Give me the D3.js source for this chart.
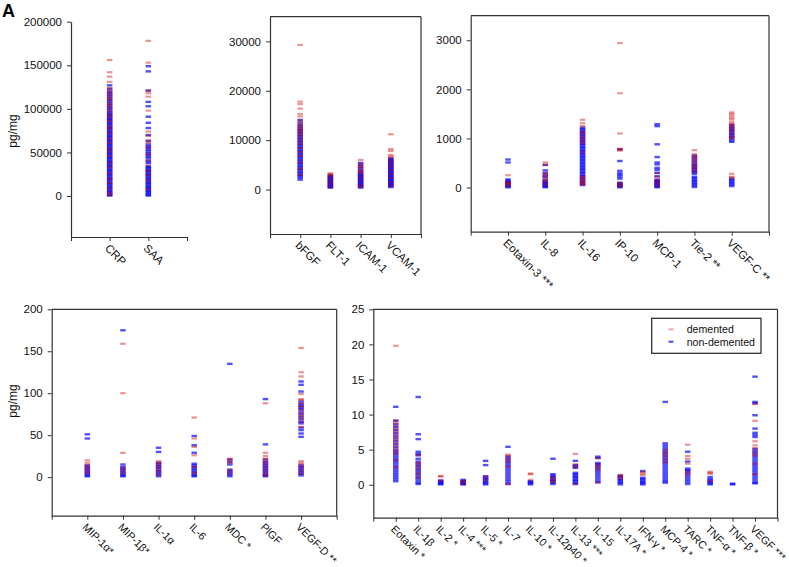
<!DOCTYPE html>
<html><head><meta charset="utf-8">
<script src="https://cdn.jsdelivr.net/npm/d3@7"></script>
<style>
body{margin:0;background:#fff;}
svg{font-family:"Liberation Sans",Arial,sans-serif;}
</style></head>
<body><svg id="chart" width="789" height="567"></svg>
<script>
// ---------- DATA ----------
const p1Categories = ["CRP", "SAA"];
const p1Ticks = [0, 50000, 100000, 150000, 200000];
const p1Demented = [
  [156000, 142000, 137000, 131000, 124000, 121000, 118000, 115000, 112000, 110000, 106000, 104000, 101000, 97000, 93000, 90000, 86000, 80000, 77000, 72000, 66000, 61000, 55000, 51000, 46000, 38000, 33000, 26000, 20000, 15000, 9000, 4000, 1000],
  [178000, 153000, 121000, 118000, 114000, 98000, 74000, 69000, 64000, 61000, 56000, 48000, 41000, 36000, 29000, 24000, 18000, 8000]
];
const p1NonDemented = [
  [127000, 123000, 120000, 118000, 116000, 114000, 112000, 110000, 108000, 106000, 104000, 102000, 100000, 98000, 96000, 94500, 93000, 91500, 90000, 88500, 87000, 85500, 84000, 82500, 81000, 79500, 78000, 76500, 75000, 73500, 72000, 70500, 69000, 67500, 66000, 64500, 63000, 61500, 60000, 58500, 57000, 55500, 54000, 52500, 51000, 49500, 48000, 46500, 45000, 43500, 42000, 40500, 39000, 37500, 36000, 34500, 33000, 31500, 30000, 28500, 27000, 25500, 24000, 22500, 21000, 19500, 18000, 16500, 15000, 13500, 12000, 10500, 9000, 7500, 6000, 4500, 3000, 1500, 500],
  [149000, 143000, 121000, 108000, 103000, 91000, 84000, 78000, 70000, 63000, 59000, 57000, 55000, 53000, 51000, 49000, 47000, 45000, 43000, 40000, 38000, 34000, 33000, 31500, 30000, 28500, 27000, 25500, 24000, 22500, 21000, 19500, 18000, 16500, 15000, 13500, 12000, 10500, 9000, 7500, 6000, 4500, 3000, 1500, 500]
];

const p2Categories = ["bFGF", "FLT-1", "ICAM-1", "VCAM-1"];
const p2Ticks = [0, 10000, 20000, 30000];
const p2Demented = [
  [29300, 17800, 17300, 16400, 15300, 14800, 14000, 13400, 13000, 12600, 12200, 11900, 11500, 11000, 10400, 9800, 9200, 8400, 7600, 6800, 5500, 4200, 3000],
  [3300, 3100, 2900, 2500, 1800, 1200, 600],
  [6000, 5200, 4700, 4400, 3900, 3600, 3300, 2600, 1800, 1000, 500],
  [11200, 8200, 7800, 7000, 6700, 6400, 5800, 5100, 4500, 3900, 3100, 2400, 1500, 800]
];
const p2NonDemented = [
  [14100, 13600, 13100, 12700, 12300, 12000, 11700, 11400, 11100, 10800, 10500, 10200, 9900, 9600, 9300, 9000, 8700, 8400, 8100, 7800, 7500, 7200, 6900, 6600, 6300, 6000, 5700, 5400, 5100, 4800, 4500, 4200, 3900, 3600, 3300, 3000, 2700, 2400, 2000],
  [2900, 2700, 2500, 2300, 2100, 1900, 1700, 1500, 1300, 1100, 900, 700, 500, 400],
  [5400, 5000, 4600, 4200, 3800, 3500, 3200, 3000, 2800, 2600, 2400, 2200, 2000, 1800, 1600, 1400, 1200, 1000, 800, 600, 400],
  [6300, 6100, 5900, 5700, 5500, 5300, 5100, 4900, 4700, 4500, 4300, 4100, 3900, 3700, 3500, 3300, 3100, 2900, 2700, 2500, 2300, 2100, 1900, 1700, 1500, 1300, 1100, 900, 700, 500]
];

const p3Categories = ["Eotaxin-3 ***", "IL-8", "IL-16", "IP-10", "MCP-1", "Tie-2 **", "VEGF-C **"];
const p3Ticks = [0, 1000, 2000, 3000];
const p3Demented = [
  [250, 110, 90, 70, 40],
  [510, 460, 290, 250, 200, 160, 120, 60],
  [1380, 1310, 1250, 1130, 1090, 1020, 960, 900, 720, 230, 200, 170, 130, 100, 80, 60],
  [2940, 1920, 1100, 790, 770, 750, 90, 60, 30],
  [290, 210, 150, 90, 40],
  [760, 680, 640, 600, 560, 520, 460, 420, 380, 330],
  [1530, 1500, 1460, 1420, 1390, 1340, 1300, 1270, 1230, 1190, 1150, 1090, 1030, 1000, 280, 220, 200]
];
const p3NonDemented = [
  [570, 510, 165, 140, 120, 100, 80, 60, 40, 20, 5],
  [460, 350, 300, 250, 210, 150, 120, 100, 80, 60, 40, 20, 5],
  [1220, 1190, 1160, 1130, 1100, 1070, 1040, 1010, 980, 950, 920, 890, 860, 830, 800, 770, 740, 710, 680, 650, 620, 590, 560, 530, 500, 470, 440, 410, 380, 350, 320, 290, 260, 230, 200, 170, 140, 110, 80, 50],
  [780, 540, 340, 290, 260, 220, 180, 100, 80, 60, 40, 20, 5],
  [1290, 1250, 880, 620, 510, 470, 400, 360, 300, 230, 160, 140, 120, 100, 80, 60, 40, 20, 5],
  [650, 610, 570, 530, 490, 460, 430, 400, 370, 340, 310, 280, 220, 190, 160, 130, 100, 70, 40, 10],
  [1280, 1240, 1210, 1180, 1150, 1120, 1090, 1060, 1030, 1000, 960, 930, 180, 150, 120, 90, 60, 30]
];

const p4Categories = ["MIP-1\u03b1*", "MIP-1\u03b2*", "IL-1\u03b1", "IL-6", "MDC *", "PlGF", "VEGF-D **"];
const p4Ticks = [0, 50, 100, 150, 200];
const p4Demented = [
  [20, 17, 14, 11, 8, 5],
  [159, 100, 29, 11, 8, 4],
  [19, 17, 14, 11, 7, 3],
  [71, 46, 36, 26, 12, 5],
  [22, 20, 17, 8, 4],
  [88, 29, 25, 22, 19, 16, 12, 8, 4, 2],
  [154, 125, 120, 99, 93, 92, 88, 84, 80, 76, 73, 70, 66, 60, 19, 17, 15, 12, 8, 4]
];
const p4NonDemented = [
  [51, 46, 14, 12, 10, 8, 6, 4, 2, 1],
  [175, 15, 12, 10, 8, 6, 4, 2, 1],
  [35, 30, 17, 15, 13, 11, 9, 7, 5, 3, 1],
  [49, 38, 29, 16, 14, 12, 10, 8, 6, 4, 2, 1],
  [135, 21, 18, 15, 9, 7, 5, 3, 1],
  [93, 39, 21, 18, 16, 14, 12, 10, 8, 6, 4, 2, 1],
  [114, 110, 102, 90, 87, 85, 83, 81, 78, 75, 72, 69, 66, 64, 59, 56, 52, 48, 14, 12, 10, 8, 6, 4, 2]
];

const p5Categories = ["Eotaxin *", "IL-1\u03b2", "IL-2 *", "IL-4 ***", "IL-5 *", "IL-7", "IL-10 *", "IL-12p40 *", "IL-13 ***", "IL-15", "IL-17A *", "IFN-\u03b3 *", "MCP-4 *", "TARC *", "TNF-\u03b1 *", "TNF-\u03b2 *", "VEGF ***"];
const p5Ticks = [0, 5, 10, 15, 20, 25];
const p5Demented = [
  [19.8, 9.2, 8.8, 8.4, 8.0, 7.6, 7.2, 6.8, 6.4, 6.0, 5.6, 5.2, 4.8, 4.4, 3.5, 2.5],
  [4.2, 3.1, 2.7, 2.2, 1.6, 1.0],
  [1.25, 1.15, 0.6],
  [0.5, 0.2],
  [1.2, 0.7],
  [4.3, 4.1, 3.7, 3.3, 2.6, 0.1],
  [1.6, 1.5, 0.7],
  [1.0, 0.7, 0.4],
  [4.4, 2.9, 2.5, 0.1],
  [3.8, 2.9, 2.5, 2.2, 0.3],
  [1.4, 1.2, 0.9],
  [1.8, 1.6, 1.4],
  [4.9, 4.5, 4.1, 3.6, 3.2],
  [5.7, 4.1, 3.7, 3.0, 1.8, 1.5],
  [1.85, 1.7, 1.55, 0.5],
  [],
  [11.5, 9.1, 6.2, 5.6, 5.2, 4.6, 4.2, 3.0, 1.5]
];
const p5NonDemented = [
  [11.1, 9.1, 8.6, 8.2, 7.8, 7.4, 7.0, 6.6, 6.2, 5.8, 5.4, 5.0, 4.7, 4.4, 4.1, 3.8, 3.5, 3.2, 2.9, 2.6, 2.3, 2.0, 1.7, 1.4, 1.1, 0.8, 0.5],
  [12.5, 7.2, 6.5, 4.7, 4.4, 4.2, 3.7, 3.3, 3.0, 2.7, 2.4, 2.1, 1.8, 1.5, 1.2, 0.9, 0.6, 0.3, 0.1],
  [0.6, 0.45, 0.3, 0.15, 0.05],
  [0.7, 0.55, 0.4, 0.25, 0.1, 0.05],
  [3.4, 2.8, 1.2, 1.0, 0.8, 0.6, 0.4, 0.2, 0.05],
  [5.4, 4.0, 3.7, 3.4, 3.1, 2.8, 2.5, 2.2, 1.9, 1.6, 1.3, 1.0, 0.7, 0.4, 0.1],
  [0.5, 0.35, 0.2, 0.05],
  [3.7, 1.5, 1.3, 1.1, 0.9, 0.7, 0.5, 0.3, 0.1],
  [3.4, 2.8, 2.6, 2.4, 1.7, 1.5, 1.3, 1.1, 0.9, 0.7, 0.5, 0.3, 0.1],
  [4.0, 3.8, 3.1, 2.9, 2.7, 2.4, 2.1, 1.8, 1.5, 1.2, 0.9, 0.6, 0.35],
  [1.3, 1.1, 0.85, 0.65, 0.45, 0.25, 0.05],
  [1.95, 1.0, 0.8, 0.6, 0.4, 0.2, 0.05],
  [11.8, 5.9, 5.6, 5.3, 5.0, 4.7, 4.4, 4.1, 3.8, 3.5, 3.2, 2.9, 2.6, 2.3, 2.0, 1.7, 1.4, 1.1, 0.8, 0.5, 0.3],
  [4.7, 3.3, 2.3, 2.1, 1.9, 1.6, 1.3, 1.0, 0.7, 0.4, 0.1],
  [1.1, 0.8, 0.6, 0.4, 0.2, 0.05],
  [0.15, 0.05],
  [15.4, 11.8, 11.6, 9.9, 8.0, 7.4, 7.1, 6.8, 5.1, 4.8, 4.5, 4.2, 3.9, 3.6, 3.3, 3.0, 2.7, 2.4, 2.1, 1.8, 1.5, 1.2, 0.9, 0.6, 0.3, 0.2]
];

const seriesNames = ["demented", "non-demented"];
const yLabel = "pg/mg";
const panelLetter = "A";

// ---------- LAYOUT ----------
const panels = [
  {cats: p1Categories, ticks: p1Ticks, dem: p1Demented, non: p1NonDemented, left: 71, right: 187, top: 21.7, bottom: 237, yDomain: [-47000, 200000], frame: false, ylabY: 131, lab: 11.5},
  {cats: p2Categories, ticks: p2Ticks, dem: p2Demented, non: p2NonDemented, left: 270, right: 421, top: 16.7, bottom: 234, yDomain: [-9000, 35000], frame: true, lab: 11.5},
  {cats: p3Categories, ticks: p3Ticks, dem: p3Demented, non: p3NonDemented, left: 470.7, right: 769, top: 15.7, bottom: 231.7, yDomain: [-900, 3500], frame: true, lab: 11.5},
  {cats: p4Categories, ticks: p4Ticks, dem: p4Demented, non: p4NonDemented, left: 51.7, right: 336.7, top: 309.3, bottom: 515.7, yDomain: [-46, 200], frame: true, ylabY: 401, lab: 10.8},
  {cats: p5Categories, ticks: p5Ticks, dem: p5Demented, non: p5NonDemented, left: 373.3, right: 777.5, top: 309.3, bottom: 517.7, yDomain: [-4.7, 25], frame: true, legend: true, lab: 10.8}
];

const RED = "#cc0000", BLUE = "#0000ff";
const svg = d3.select("#chart");
const axisColor = "#333";
const FONT = "Liberation Sans, Arial, sans-serif";

svg.append("text").attr("x", 2).attr("y", 17).attr("font-size", 18).attr("font-weight", "bold").attr("font-family", FONT).text(panelLetter);

panels.forEach(p => {
  const n = p.cats.length;
  const x = d3.scaleLinear().domain([0, n + 1]).range([p.left, p.right]);
  const y = d3.scaleLinear().domain(p.yDomain).range([p.bottom, p.top]);
  const g = svg.append("g");

  // y axis
  const ya = g.append("g").attr("transform", `translate(${p.left},0)`)
    .call(d3.axisLeft(y).tickValues(p.ticks).tickSize(4).tickPadding(5).tickSizeOuter(0).tickFormat(d3.format("d")));
  ya.select(".domain").attr("stroke", axisColor).attr("stroke-width", 1.2);
  ya.selectAll(".tick line").attr("stroke", axisColor);
  ya.selectAll("text").attr("font-size", 11.5).attr("fill", "#111").attr("font-family", FONT);

  // x axis
  const xa = g.append("g").attr("transform", `translate(0,${p.bottom})`)
    .call(d3.axisBottom(x).tickValues(d3.range(0, n + 2)).tickSize(4).tickSizeOuter(0)
      .tickFormat(i => (i >= 1 && i <= n) ? p.cats[i - 1] : ""));
  xa.select(".domain").attr("stroke", axisColor).attr("stroke-width", 1.2);
  xa.selectAll(".tick line").attr("stroke", axisColor);
  xa.selectAll("text").attr("font-size", p.lab).attr("fill", "#111")
    .attr("font-family", FONT)
    .attr("text-anchor", "start").attr("x", 0).attr("y", 0).attr("dy", 0)
    .attr("transform", "translate(-6,12) rotate(45)");

  if (p.frame) {
    g.append("line").attr("x1", p.left).attr("x2", p.right).attr("y1", p.top).attr("y2", p.top).attr("stroke", axisColor).attr("stroke-width", 1.2);
    g.append("line").attr("x1", p.right).attr("x2", p.right).attr("y1", p.top).attr("y2", p.bottom).attr("stroke", axisColor).attr("stroke-width", 1.2);
  }

  // marks: non-demented first, demented on top
  p.cats.forEach((c, i) => {
    g.selectAll(null).data(p.non[i]).enter().append("rect")
      .attr("x", x(i + 1) - 2.75).attr("y", d => y(d) - 1.2).attr("width", 5.5).attr("height", 2.4)
      .attr("fill", BLUE).attr("fill-opacity", 0.68);
  });
  p.cats.forEach((c, i) => {
    g.selectAll(null).data(p.dem[i]).enter().append("rect")
      .attr("x", x(i + 1) - 2.75).attr("y", d => y(d) - 1.1).attr("width", 5.5).attr("height", 2.2)
      .attr("fill", RED).attr("fill-opacity", 0.42);
  });

  if (p.ylabY) {
    g.append("text").attr("transform", `translate(17,${p.ylabY}) rotate(-90)`)
      .attr("text-anchor", "middle").attr("font-size", 12).attr("fill", "#111").attr("font-family", FONT).text(yLabel);
  }

  if (p.legend) {
    const lg = g.append("g");
    lg.append("rect").attr("x", 651.7).attr("y", 318.3).attr("width", 109.3).attr("height", 35)
      .attr("fill", "#fff").attr("stroke", "#222").attr("stroke-width", 1.2);
    const cols = [RED, BLUE];
    const ops = [0.35, 0.7];
    seriesNames.forEach((s, k) => {
      const yy = 329.3 + k * 12.4;
      lg.append("rect").attr("x", 668.5).attr("y", yy - 1).attr("width", 5).attr("height", 2)
        .attr("fill", cols[k]).attr("fill-opacity", ops[k]);
      lg.append("text").attr("x", 686.7).attr("y", yy + 3.8).attr("font-size", 10.6).attr("fill", "#111").attr("font-family", FONT).text(s);
    });
  }
});
</script>
</body></html>
